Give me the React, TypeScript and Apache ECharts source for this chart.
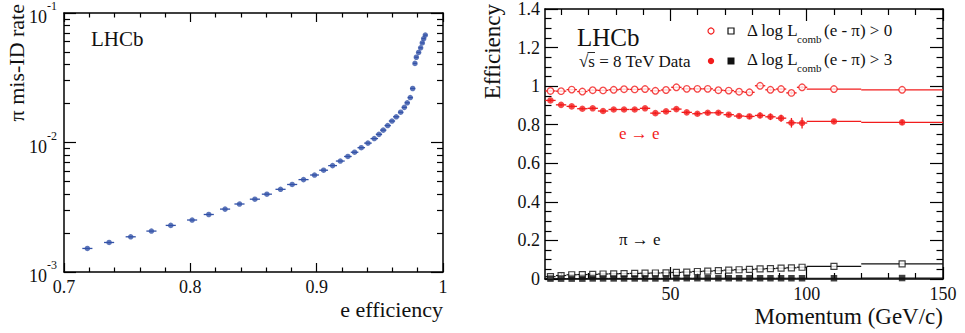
import React, { useEffect, useRef } from "react";
import * as echarts from "echarts";

// ---------- Left panel: pi mis-ID rate vs e efficiency ----------
const effX = [0.7185, 0.7357, 0.7528, 0.7692, 0.7845, 0.8014, 0.8146, 0.8275, 0.8389, 0.8511, 0.8606, 0.8714, 0.8806, 0.8896, 0.8983, 0.9055, 0.9126, 0.9187, 0.9247, 0.93, 0.9353, 0.9406, 0.9456, 0.9493, 0.9527, 0.9562, 0.9596, 0.963, 0.9665, 0.9694, 0.9717, 0.9741, 0.976, 0.9778, 0.9789, 0.9807, 0.9823, 0.9836, 0.9847, 0.986];
const misIdRate = [0.00152, 0.00169, 0.00187, 0.00207, 0.00229, 0.00252, 0.00278, 0.00306, 0.00335, 0.00365, 0.00399, 0.00435, 0.00474, 0.00517, 0.00561, 0.00611, 0.00663, 0.00719, 0.0078, 0.00841, 0.00912, 0.00989, 0.01072, 0.01156, 0.01246, 0.01351, 0.01465, 0.0158, 0.01713, 0.01868, 0.02026, 0.02222, 0.02612, 0.04083, 0.04553, 0.04962, 0.05383, 0.05872, 0.06336, 0.06752];
const effXErr = [0.004, 0.004, 0.004, 0.004, 0.004, 0.004, 0.004, 0.004, 0.004, 0.004, 0.004, 0.004, 0.004, 0.004, 0.0035, 0.0035, 0.0035, 0.0035, 0.003, 0.003, 0.003, 0.003, 0.003, 0.0025, 0.0025, 0.0025, 0.0025, 0.0025, 0.002, 0.002, 0.002, 0.002, 0.002, 0.0015, 0.0015, 0.0015, 0.0015, 0.0015, 0.0015, 0.0015];
const logMajorTicks = [0.001, 0.01, 0.1];
const logMinorTicks = [0.002, 0.003, 0.004, 0.005, 0.006, 0.007, 0.008, 0.009, 0.02, 0.03, 0.04, 0.05, 0.06, 0.07, 0.08, 0.09];

// ---------- Right panel: efficiency vs momentum ----------
const momentum = [6.0, 9.9, 13.8, 17.7, 21.5, 25.3, 29.2, 33.0, 36.9, 40.7, 44.5, 48.4, 52.2, 56.0, 59.9, 63.7, 67.6, 71.4, 75.2, 79.0, 82.9, 86.7, 90.6, 94.4, 98.3, 110, 135];
const momentumHalfWidth = [1.9, 1.9, 1.9, 1.9, 1.9, 1.9, 1.9, 1.9, 1.9, 1.9, 1.9, 1.9, 1.9, 1.9, 1.9, 1.9, 1.9, 1.9, 1.9, 1.9, 1.9, 1.9, 1.9, 1.9, 1.9, 10, 15];
const eEffDll0 = [0.975, 0.974, 0.982, 0.972, 0.979, 0.978, 0.981, 0.984, 0.983, 0.985, 0.976, 0.98, 0.994, 0.986, 0.986, 0.986, 0.979, 0.977, 0.971, 0.968, 1.002, 0.981, 0.985, 0.965, 0.994, 0.985, 0.981];
const eEffDll0Err = [0.003, 0.003, 0.003, 0.003, 0.003, 0.003, 0.003, 0.003, 0.003, 0.003, 0.003, 0.003, 0.003, 0.004, 0.004, 0.004, 0.004, 0.004, 0.005, 0.005, 0.005, 0.006, 0.006, 0.008, 0.008, 0.004, 0.004];
const eEffDll3 = [0.926, 0.903, 0.895, 0.883, 0.885, 0.871, 0.879, 0.879, 0.879, 0.885, 0.86, 0.869, 0.881, 0.864, 0.857, 0.862, 0.862, 0.852, 0.845, 0.843, 0.848, 0.841, 0.834, 0.81, 0.809, 0.817, 0.812];
const eEffDll3Err = [0.007, 0.006, 0.006, 0.006, 0.006, 0.006, 0.006, 0.006, 0.006, 0.006, 0.007, 0.007, 0.007, 0.008, 0.008, 0.009, 0.009, 0.01, 0.011, 0.013, 0.015, 0.017, 0.018, 0.025, 0.028, 0.01, 0.012];
const piEffDll0 = [0.012, 0.018, 0.022, 0.023, 0.024, 0.026, 0.027, 0.028, 0.029, 0.03, 0.031, 0.032, 0.034, 0.036, 0.039, 0.041, 0.043, 0.046, 0.048, 0.05, 0.052, 0.054, 0.056, 0.058, 0.061, 0.065, 0.078];
const piEffDll3 = [0.002, 0.002, 0.002, 0.002, 0.003, 0.003, 0.003, 0.003, 0.003, 0.003, 0.003, 0.003, 0.004, 0.004, 0.004, 0.004, 0.004, 0.004, 0.004, 0.004, 0.004, 0.004, 0.004, 0.004, 0.004, 0.004, 0.005];
const momMajorTicks = [50, 100, 150];
const momMinorTicks = [10, 20, 30, 40, 60, 70, 80, 90, 110, 120, 130, 140];

const RED = "#f21c1c";
const BLUE = "#3352a8";
const BLACK = "#111";
const FONT = "'Liberation Serif', 'Times New Roman', Times, serif";
const f = (px: number) => `${px}px ${FONT}`;

function errRender(color: string, lw: number) {
  return (params: any, api: any) => {
    const x = api.value(0), y = api.value(1);
    const xl = api.value(2), xh = api.value(3), yl = api.value(4), yh = api.value(5);
    const l = api.coord([xl, y]);
    const r = api.coord([xh, y]);
    const b = api.coord([x, yl]);
    const t = api.coord([x, yh]);
    return {
      type: "group",
      children: [
        { type: "line", shape: { x1: l[0], y1: l[1], x2: r[0], y2: r[1] }, style: { stroke: color, lineWidth: lw } },
        { type: "line", shape: { x1: b[0], y1: b[1], x2: t[0], y2: t[1] }, style: { stroke: color, lineWidth: lw } },
      ],
    };
  };
}

const axisLine = { show: true, lineStyle: { color: "#000", width: 1.5 } };
const tickStyle = { color: "#000", width: 1.2 };
const labelBase = { fontFamily: FONT, fontSize: 18, color: "#111" };

function txt(x: number, y: number, text: string, px: number, fill = "#111", align = "left", rotation = 0) {
  return {
    type: "text", x, y, rotation,
    style: { text, font: f(px), fill, textAlign: align, textVerticalAlign: "middle" },
  };
}

export default function App() {
  const ref = useRef<HTMLDivElement>(null);
  useEffect(() => {
    if (!ref.current) return;
    const chart = echarts.init(ref.current, null, { renderer: "svg" });

    const leftErr = effX.map((x, i) => [x, misIdRate[i], x - effXErr[i], x + effXErr[i], misIdRate[i], misIdRate[i]]);
    const mkErr = (ys: number[], yerr: number[] | null) =>
      momentum.map((p, i) => [p, ys[i], p - momentumHalfWidth[i], p + momentumHalfWidth[i], ys[i] - (yerr ? yerr[i] : 0), ys[i] + (yerr ? yerr[i] : 0)]);
    const pts = (ys: number[]) => momentum.map((p, i) => [p, ys[i]]);

    const option: any = {
      animation: false,
      backgroundColor: "#fff",
      textStyle: { fontFamily: FONT },
      grid: [
        { left: 64, top: 7, width: 379, height: 265 },
        { left: 545, top: 7, width: 398, height: 272 },
      ],
      xAxis: [
        {
          gridIndex: 0, type: "value", position: "bottom", min: 0.7, max: 1, interval: 0.1,
          axisLine, splitLine: { show: false },
          axisTick: { show: true, inside: true, length: 9, lineStyle: tickStyle },
          minorTick: { show: true, splitNumber: 5, length: 4.5, lineStyle: tickStyle },
          axisLabel: { ...labelBase, margin: 6 },
        },
        {
          gridIndex: 0, type: "value", position: "top", min: 0.7, max: 1, interval: 0.1,
          axisLine, splitLine: { show: false },
          axisTick: { show: true, inside: true, length: 9, lineStyle: tickStyle },
          minorTick: { show: true, splitNumber: 5, length: 4.5, lineStyle: tickStyle },
          axisLabel: { show: false },
        },
        {
          gridIndex: 1, type: "value", position: "bottom", min: 4, max: 150,
          axisLine, splitLine: { show: false },
          axisTick: { show: true, inside: true, length: 12, lineStyle: tickStyle, customValues: momMajorTicks },
          axisLabel: { ...labelBase, margin: 6, customValues: momMajorTicks },
        },
        {
          gridIndex: 1, type: "value", position: "bottom", min: 4, max: 150,
          axisLine: { show: false }, splitLine: { show: false },
          axisTick: { show: true, inside: true, length: 6, lineStyle: tickStyle, customValues: momMinorTicks },
          axisLabel: { show: false },
        },
        {
          gridIndex: 1, type: "value", position: "top", min: 4, max: 150,
          axisLine, splitLine: { show: false },
          axisTick: { show: true, inside: true, length: 12, lineStyle: tickStyle, customValues: momMajorTicks },
          axisLabel: { show: false, customValues: momMajorTicks },
        },
        {
          gridIndex: 1, type: "value", position: "top", min: 4, max: 150,
          axisLine: { show: false }, splitLine: { show: false },
          axisTick: { show: true, inside: true, length: 6, lineStyle: tickStyle, customValues: momMinorTicks },
          axisLabel: { show: false },
        },
      ],
      yAxis: [
        {
          gridIndex: 0, type: "log", logBase: 10, position: "left", min: 0.001, max: 0.1,
          axisLine, splitLine: { show: false },
          axisTick: { show: true, inside: true, length: 12, lineStyle: tickStyle, customValues: logMajorTicks },
          axisLabel: {
            margin: 7,
            customValues: logMajorTicks,
            formatter: (v: number) => "{b|10}{s|" + Math.round(Math.log10(v)) + "}",
            rich: {
              b: { fontFamily: FONT, fontSize: 18, color: "#111", lineHeight: 26, verticalAlign: "bottom" },
              s: { fontFamily: FONT, fontSize: 12, color: "#111", lineHeight: 12, verticalAlign: "top" },
            },
          },
        },
        {
          gridIndex: 0, type: "log", logBase: 10, position: "left", min: 0.001, max: 0.1,
          axisLine: { show: false }, splitLine: { show: false },
          axisTick: { show: true, inside: true, length: 6, lineStyle: tickStyle, customValues: logMinorTicks },
          axisLabel: { show: false },
        },
        {
          gridIndex: 0, type: "log", logBase: 10, position: "right", min: 0.001, max: 0.1,
          axisLine, splitLine: { show: false },
          axisTick: { show: true, inside: true, length: 12, lineStyle: tickStyle, customValues: logMajorTicks },
          axisLabel: { show: false },
        },
        {
          gridIndex: 0, type: "log", logBase: 10, position: "right", min: 0.001, max: 0.1,
          axisLine: { show: false }, splitLine: { show: false },
          axisTick: { show: true, inside: true, length: 6, lineStyle: tickStyle, customValues: logMinorTicks },
          axisLabel: { show: false },
        },
        {
          gridIndex: 1, type: "value", position: "left", min: 0, max: 1.4, interval: 0.2,
          axisLine, splitLine: { show: false },
          axisTick: { show: true, inside: true, length: 13, lineStyle: tickStyle },
          minorTick: { show: true, splitNumber: 4, length: 6.5, lineStyle: tickStyle },
          axisLabel: { ...labelBase, margin: 5 },
        },
        {
          gridIndex: 1, type: "value", position: "right", min: 0, max: 1.4, interval: 0.2,
          axisLine, splitLine: { show: false },
          axisTick: { show: true, inside: true, length: 13, lineStyle: tickStyle },
          minorTick: { show: true, splitNumber: 4, length: 6.5, lineStyle: tickStyle },
          axisLabel: { show: false },
        },
      ],
      series: [
        {
          type: "custom", xAxisIndex: 0, yAxisIndex: 0, z: 2, clip: true,
          renderItem: errRender(BLUE, 1.3), data: leftErr,
          encode: { x: [0, 2, 3], y: [1, 4, 5] },
        },
        {
          type: "scatter", xAxisIndex: 0, yAxisIndex: 0, z: 3, symbol: "circle", symbolSize: 5.5,
          itemStyle: { color: BLUE }, data: effX.map((x, i) => [x, misIdRate[i]]),
        },
        { type: "custom", xAxisIndex: 2, yAxisIndex: 4, z: 2, renderItem: errRender(RED, 1.3), data: mkErr(eEffDll0, eEffDll0Err), encode: { x: [0, 2, 3], y: [1, 4, 5] } },
        { type: "custom", xAxisIndex: 2, yAxisIndex: 4, z: 2, renderItem: errRender(RED, 1.3), data: mkErr(eEffDll3, eEffDll3Err), encode: { x: [0, 2, 3], y: [1, 4, 5] } },
        { type: "custom", xAxisIndex: 2, yAxisIndex: 4, z: 2, renderItem: errRender(BLACK, 1.2), data: mkErr(piEffDll0, null), encode: { x: [0, 2, 3], y: [1, 4, 5] } },
        { type: "custom", xAxisIndex: 2, yAxisIndex: 4, z: 2, renderItem: errRender(BLACK, 1.2), data: mkErr(piEffDll3, null), encode: { x: [0, 2, 3], y: [1, 4, 5] } },
        {
          type: "scatter", xAxisIndex: 2, yAxisIndex: 4, z: 3, symbol: "circle", symbolSize: 6.5,
          itemStyle: { color: "#fff", borderColor: RED, borderWidth: 1.3 }, data: pts(eEffDll0),
        },
        {
          type: "scatter", xAxisIndex: 2, yAxisIndex: 4, z: 3, symbol: "circle", symbolSize: 6.5,
          itemStyle: { color: RED }, data: pts(eEffDll3),
        },
        {
          type: "scatter", xAxisIndex: 2, yAxisIndex: 4, z: 3, symbol: "rect", symbolSize: 6,
          itemStyle: { color: "#fff", borderColor: BLACK, borderWidth: 1.2 }, data: pts(piEffDll0),
        },
        {
          type: "scatter", xAxisIndex: 2, yAxisIndex: 4, z: 3, symbol: "rect", symbolSize: 6.5,
          itemStyle: { color: BLACK }, data: pts(piEffDll3),
        },
      ],
      graphic: [
        txt(91, 39, "LHCb", 21),
        txt(16, 4, "π mis-ID rate", 22, "#111", "right", Math.PI / 2),
        txt(443, 309, "e efficiency", 22, "#111", "right"),
        txt(492, 4, "Efficiency", 23, "#111", "right", Math.PI / 2),
        txt(943, 316, "Momentum (GeV/c)", 23, "#111", "right"),
        txt(577, 37, "LHCb", 25),
        txt(579, 61, "√s = 8 TeV Data", 17),
        { type: "line", shape: { x1: 587.5, y1: 52.5, x2: 595, y2: 52.5 }, style: { stroke: "#111", lineWidth: 0.9 } },
        txt(619, 133, "e → e", 17, RED),
        txt(619, 239, "π → e", 17),
        { type: "circle", shape: { cx: 711, cy: 31, r: 3 }, style: { fill: "#fff", stroke: RED, lineWidth: 1.2 } },
        { type: "rect", shape: { x: 728, y: 28, width: 6, height: 6 }, style: { fill: "#fff", stroke: BLACK, lineWidth: 1.2 } },
        { type: "circle", shape: { cx: 711, cy: 61, r: 3.2 }, style: { fill: RED } },
        { type: "rect", shape: { x: 727.5, y: 57.5, width: 7, height: 7 }, style: { fill: BLACK } },
        txt(747, 30, "Δ log L", 17),
        txt(797, 39, "comb", 11),
        txt(824, 30, "(e - π) > 0", 17),
        txt(747, 59, "Δ log L", 17),
        txt(797, 68, "comb", 11),
        txt(824, 59, "(e - π) > 3", 17),
      ],
    };
    chart.setOption(option);
    return () => chart.dispose();
  }, []);
  return <div ref={ref} style={{ position: "fixed", left: 0, top: 0, width: 965, height: 333, background: "#fff" }} />;
}
